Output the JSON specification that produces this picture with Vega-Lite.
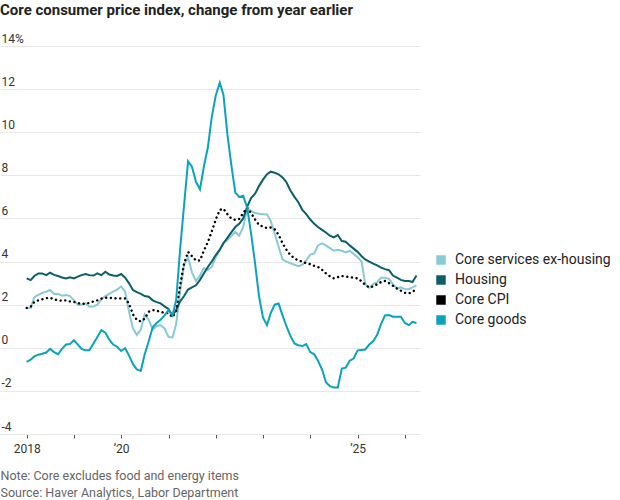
{
  "$schema": "https://vega.github.io/schema/vega-lite/v6.json",
  "width": 420,
  "height": 388,
  "autosize": {"type": "none"},
  "padding": {"left": 0, "top": 46, "right": 200, "bottom": 66},
  "title": {
    "text": "Core consumer price index, change from year earlier",
    "anchor": "start",
    "frame": "group",
    "offset": 2,
    "baseline": "alphabetic",
    "fontSize": 15,
    "fontWeight": "bold",
    "color": "#222"
  },
  "config": {"view": {"stroke": null}, "font": "Roboto"},
  "datasets": {
    "services": [
      {"date": "2018-01-01", "pct": 1.83}, {"date": "2018-02-01", "pct": 1.85}, {"date": "2018-03-01", "pct": 2.35}, {"date": "2018-04-01", "pct": 2.45},
      {"date": "2018-05-01", "pct": 2.55}, {"date": "2018-06-01", "pct": 2.6}, {"date": "2018-07-01", "pct": 2.68}, {"date": "2018-08-01", "pct": 2.5},
      {"date": "2018-09-01", "pct": 2.5}, {"date": "2018-10-01", "pct": 2.42}, {"date": "2018-11-01", "pct": 2.45}, {"date": "2018-12-01", "pct": 2.4},
      {"date": "2019-01-01", "pct": 2.2}, {"date": "2019-02-01", "pct": 2.0}, {"date": "2019-03-01", "pct": 2.0}, {"date": "2019-04-01", "pct": 2.06},
      {"date": "2019-05-01", "pct": 1.9}, {"date": "2019-06-01", "pct": 1.92}, {"date": "2019-07-01", "pct": 2.0}, {"date": "2019-08-01", "pct": 2.25},
      {"date": "2019-09-01", "pct": 2.4}, {"date": "2019-10-01", "pct": 2.5}, {"date": "2019-11-01", "pct": 2.6}, {"date": "2019-12-01", "pct": 2.7},
      {"date": "2020-01-01", "pct": 2.85}, {"date": "2020-02-01", "pct": 2.6}, {"date": "2020-03-01", "pct": 1.7}, {"date": "2020-04-01", "pct": 0.9},
      {"date": "2020-05-01", "pct": 0.6}, {"date": "2020-06-01", "pct": 0.85}, {"date": "2020-07-01", "pct": 1.55}, {"date": "2020-08-01", "pct": 1.3},
      {"date": "2020-09-01", "pct": 0.85}, {"date": "2020-10-01", "pct": 1.0}, {"date": "2020-11-01", "pct": 1.05}, {"date": "2020-12-01", "pct": 0.9},
      {"date": "2021-01-01", "pct": 0.5}, {"date": "2021-02-01", "pct": 0.48}, {"date": "2021-03-01", "pct": 1.1}, {"date": "2021-04-01", "pct": 2.6},
      {"date": "2021-05-01", "pct": 3.85}, {"date": "2021-06-01", "pct": 4.2}, {"date": "2021-07-01", "pct": 3.5}, {"date": "2021-08-01", "pct": 3.1},
      {"date": "2021-09-01", "pct": 3.35}, {"date": "2021-10-01", "pct": 3.7}, {"date": "2021-11-01", "pct": 3.62}, {"date": "2021-12-01", "pct": 3.75},
      {"date": "2022-01-01", "pct": 4.2}, {"date": "2022-02-01", "pct": 4.55}, {"date": "2022-03-01", "pct": 4.85}, {"date": "2022-04-01", "pct": 5.0},
      {"date": "2022-05-01", "pct": 5.18}, {"date": "2022-06-01", "pct": 5.38}, {"date": "2022-07-01", "pct": 5.2}, {"date": "2022-08-01", "pct": 5.6},
      {"date": "2022-09-01", "pct": 6.45}, {"date": "2022-10-01", "pct": 6.35}, {"date": "2022-11-01", "pct": 6.25}, {"date": "2022-12-01", "pct": 6.22},
      {"date": "2023-01-01", "pct": 6.2}, {"date": "2023-02-01", "pct": 6.18}, {"date": "2023-03-01", "pct": 5.9}, {"date": "2023-04-01", "pct": 5.3},
      {"date": "2023-05-01", "pct": 4.7}, {"date": "2023-06-01", "pct": 4.1}, {"date": "2023-07-01", "pct": 4.0}, {"date": "2023-08-01", "pct": 3.92},
      {"date": "2023-09-01", "pct": 3.85}, {"date": "2023-10-01", "pct": 3.78}, {"date": "2023-11-01", "pct": 3.85}, {"date": "2023-12-01", "pct": 4.05},
      {"date": "2024-01-01", "pct": 4.32}, {"date": "2024-02-01", "pct": 4.38}, {"date": "2024-03-01", "pct": 4.75}, {"date": "2024-04-01", "pct": 4.84},
      {"date": "2024-05-01", "pct": 4.75}, {"date": "2024-06-01", "pct": 4.62}, {"date": "2024-07-01", "pct": 4.5}, {"date": "2024-08-01", "pct": 4.55},
      {"date": "2024-09-01", "pct": 4.5}, {"date": "2024-10-01", "pct": 4.42}, {"date": "2024-11-01", "pct": 4.5}, {"date": "2024-12-01", "pct": 4.35},
      {"date": "2025-01-01", "pct": 4.2}, {"date": "2025-02-01", "pct": 4.0}, {"date": "2025-03-01", "pct": 2.95}, {"date": "2025-04-01", "pct": 2.78},
      {"date": "2025-05-01", "pct": 2.95}, {"date": "2025-06-01", "pct": 3.05}, {"date": "2025-07-01", "pct": 3.25}, {"date": "2025-08-01", "pct": 3.25},
      {"date": "2025-09-01", "pct": 3.2}, {"date": "2025-10-01", "pct": 2.95}, {"date": "2025-11-01", "pct": 2.75}, {"date": "2025-12-01", "pct": 2.8},
      {"date": "2026-01-01", "pct": 2.72}, {"date": "2026-02-01", "pct": 2.72}, {"date": "2026-03-01", "pct": 2.8}, {"date": "2026-04-01", "pct": 2.9}
    ],
    "housing": [
      {"date": "2018-01-01", "pct": 3.22}, {"date": "2018-02-01", "pct": 3.14}, {"date": "2018-03-01", "pct": 3.33}, {"date": "2018-04-01", "pct": 3.45},
      {"date": "2018-05-01", "pct": 3.45}, {"date": "2018-06-01", "pct": 3.37}, {"date": "2018-07-01", "pct": 3.48}, {"date": "2018-08-01", "pct": 3.38},
      {"date": "2018-09-01", "pct": 3.33}, {"date": "2018-10-01", "pct": 3.26}, {"date": "2018-11-01", "pct": 3.22}, {"date": "2018-12-01", "pct": 3.27},
      {"date": "2019-01-01", "pct": 3.22}, {"date": "2019-02-01", "pct": 3.3}, {"date": "2019-03-01", "pct": 3.37}, {"date": "2019-04-01", "pct": 3.42},
      {"date": "2019-05-01", "pct": 3.37}, {"date": "2019-06-01", "pct": 3.35}, {"date": "2019-07-01", "pct": 3.45}, {"date": "2019-08-01", "pct": 3.37},
      {"date": "2019-09-01", "pct": 3.53}, {"date": "2019-10-01", "pct": 3.4}, {"date": "2019-11-01", "pct": 3.35}, {"date": "2019-12-01", "pct": 3.33},
      {"date": "2020-01-01", "pct": 3.42}, {"date": "2020-02-01", "pct": 3.25}, {"date": "2020-03-01", "pct": 3.0}, {"date": "2020-04-01", "pct": 2.68},
      {"date": "2020-05-01", "pct": 2.58}, {"date": "2020-06-01", "pct": 2.5}, {"date": "2020-07-01", "pct": 2.4}, {"date": "2020-08-01", "pct": 2.37},
      {"date": "2020-09-01", "pct": 2.2}, {"date": "2020-10-01", "pct": 2.12}, {"date": "2020-11-01", "pct": 2.06}, {"date": "2020-12-01", "pct": 1.92},
      {"date": "2021-01-01", "pct": 1.8}, {"date": "2021-02-01", "pct": 1.5}, {"date": "2021-03-01", "pct": 1.75}, {"date": "2021-04-01", "pct": 2.15},
      {"date": "2021-05-01", "pct": 2.4}, {"date": "2021-06-01", "pct": 2.7}, {"date": "2021-07-01", "pct": 2.8}, {"date": "2021-08-01", "pct": 2.9},
      {"date": "2021-09-01", "pct": 3.15}, {"date": "2021-10-01", "pct": 3.45}, {"date": "2021-11-01", "pct": 3.75}, {"date": "2021-12-01", "pct": 4.0},
      {"date": "2022-01-01", "pct": 4.3}, {"date": "2022-02-01", "pct": 4.55}, {"date": "2022-03-01", "pct": 4.85}, {"date": "2022-04-01", "pct": 5.1},
      {"date": "2022-05-01", "pct": 5.35}, {"date": "2022-06-01", "pct": 5.6}, {"date": "2022-07-01", "pct": 5.75}, {"date": "2022-08-01", "pct": 6.0},
      {"date": "2022-09-01", "pct": 6.55}, {"date": "2022-10-01", "pct": 6.95}, {"date": "2022-11-01", "pct": 7.15}, {"date": "2022-12-01", "pct": 7.5},
      {"date": "2023-01-01", "pct": 7.8}, {"date": "2023-02-01", "pct": 8.05}, {"date": "2023-03-01", "pct": 8.17}, {"date": "2023-04-01", "pct": 8.12},
      {"date": "2023-05-01", "pct": 8.05}, {"date": "2023-06-01", "pct": 7.9}, {"date": "2023-07-01", "pct": 7.68}, {"date": "2023-08-01", "pct": 7.3},
      {"date": "2023-09-01", "pct": 7.0}, {"date": "2023-10-01", "pct": 6.75}, {"date": "2023-11-01", "pct": 6.4}, {"date": "2023-12-01", "pct": 6.2},
      {"date": "2024-01-01", "pct": 5.95}, {"date": "2024-02-01", "pct": 5.75}, {"date": "2024-03-01", "pct": 5.6}, {"date": "2024-04-01", "pct": 5.47},
      {"date": "2024-05-01", "pct": 5.35}, {"date": "2024-06-01", "pct": 5.2}, {"date": "2024-07-01", "pct": 5.12}, {"date": "2024-08-01", "pct": 5.23},
      {"date": "2024-09-01", "pct": 4.95}, {"date": "2024-10-01", "pct": 4.92}, {"date": "2024-11-01", "pct": 4.75}, {"date": "2024-12-01", "pct": 4.6},
      {"date": "2025-01-01", "pct": 4.45}, {"date": "2025-02-01", "pct": 4.25}, {"date": "2025-03-01", "pct": 4.1}, {"date": "2025-04-01", "pct": 4.0},
      {"date": "2025-05-01", "pct": 3.9}, {"date": "2025-06-01", "pct": 3.82}, {"date": "2025-07-01", "pct": 3.72}, {"date": "2025-08-01", "pct": 3.65},
      {"date": "2025-09-01", "pct": 3.6}, {"date": "2025-10-01", "pct": 3.35}, {"date": "2025-11-01", "pct": 3.25}, {"date": "2025-12-01", "pct": 3.15},
      {"date": "2026-01-01", "pct": 3.1}, {"date": "2026-02-01", "pct": 3.1}, {"date": "2026-03-01", "pct": 3.05}, {"date": "2026-04-01", "pct": 3.35}
    ],
    "core": [
      {"date": "2018-01-01", "pct": 1.85}, {"date": "2018-02-01", "pct": 1.9}, {"date": "2018-03-01", "pct": 2.13}, {"date": "2018-04-01", "pct": 2.2},
      {"date": "2018-05-01", "pct": 2.25}, {"date": "2018-06-01", "pct": 2.3}, {"date": "2018-07-01", "pct": 2.32}, {"date": "2018-08-01", "pct": 2.25},
      {"date": "2018-09-01", "pct": 2.2}, {"date": "2018-10-01", "pct": 2.18}, {"date": "2018-11-01", "pct": 2.2}, {"date": "2018-12-01", "pct": 2.15},
      {"date": "2019-01-01", "pct": 2.13}, {"date": "2019-02-01", "pct": 2.08}, {"date": "2019-03-01", "pct": 2.03}, {"date": "2019-04-01", "pct": 2.05},
      {"date": "2019-05-01", "pct": 2.08}, {"date": "2019-06-01", "pct": 2.15}, {"date": "2019-07-01", "pct": 2.2}, {"date": "2019-08-01", "pct": 2.28},
      {"date": "2019-09-01", "pct": 2.32}, {"date": "2019-10-01", "pct": 2.32}, {"date": "2019-11-01", "pct": 2.3}, {"date": "2019-12-01", "pct": 2.29},
      {"date": "2020-01-01", "pct": 2.29}, {"date": "2020-02-01", "pct": 2.29}, {"date": "2020-03-01", "pct": 2.06}, {"date": "2020-04-01", "pct": 1.55},
      {"date": "2020-05-01", "pct": 1.3}, {"date": "2020-06-01", "pct": 1.22}, {"date": "2020-07-01", "pct": 1.35}, {"date": "2020-08-01", "pct": 1.67},
      {"date": "2020-09-01", "pct": 1.75}, {"date": "2020-10-01", "pct": 1.72}, {"date": "2020-11-01", "pct": 1.67}, {"date": "2020-12-01", "pct": 1.62},
      {"date": "2021-01-01", "pct": 1.6}, {"date": "2021-02-01", "pct": 1.42}, {"date": "2021-03-01", "pct": 1.7}, {"date": "2021-04-01", "pct": 2.9},
      {"date": "2021-05-01", "pct": 3.9}, {"date": "2021-06-01", "pct": 4.45}, {"date": "2021-07-01", "pct": 4.25}, {"date": "2021-08-01", "pct": 4.05},
      {"date": "2021-09-01", "pct": 4.05}, {"date": "2021-10-01", "pct": 4.5}, {"date": "2021-11-01", "pct": 4.9}, {"date": "2021-12-01", "pct": 5.4},
      {"date": "2022-01-01", "pct": 5.95}, {"date": "2022-02-01", "pct": 6.4}, {"date": "2022-03-01", "pct": 6.45}, {"date": "2022-04-01", "pct": 6.2},
      {"date": "2022-05-01", "pct": 6.0}, {"date": "2022-06-01", "pct": 5.93}, {"date": "2022-07-01", "pct": 5.98}, {"date": "2022-08-01", "pct": 6.25},
      {"date": "2022-09-01", "pct": 6.5}, {"date": "2022-10-01", "pct": 6.25}, {"date": "2022-11-01", "pct": 5.95}, {"date": "2022-12-01", "pct": 5.7},
      {"date": "2023-01-01", "pct": 5.62}, {"date": "2023-02-01", "pct": 5.55}, {"date": "2023-03-01", "pct": 5.58}, {"date": "2023-04-01", "pct": 5.5},
      {"date": "2023-05-01", "pct": 5.25}, {"date": "2023-06-01", "pct": 4.85}, {"date": "2023-07-01", "pct": 4.55}, {"date": "2023-08-01", "pct": 4.3},
      {"date": "2023-09-01", "pct": 4.15}, {"date": "2023-10-01", "pct": 4.05}, {"date": "2023-11-01", "pct": 4.0}, {"date": "2023-12-01", "pct": 3.92},
      {"date": "2024-01-01", "pct": 3.88}, {"date": "2024-02-01", "pct": 3.8}, {"date": "2024-03-01", "pct": 3.75}, {"date": "2024-04-01", "pct": 3.62},
      {"date": "2024-05-01", "pct": 3.45}, {"date": "2024-06-01", "pct": 3.32}, {"date": "2024-07-01", "pct": 3.22}, {"date": "2024-08-01", "pct": 3.28},
      {"date": "2024-09-01", "pct": 3.33}, {"date": "2024-10-01", "pct": 3.3}, {"date": "2024-11-01", "pct": 3.28}, {"date": "2024-12-01", "pct": 3.25},
      {"date": "2025-01-01", "pct": 3.22}, {"date": "2025-02-01", "pct": 3.08}, {"date": "2025-03-01", "pct": 2.92}, {"date": "2025-04-01", "pct": 2.8},
      {"date": "2025-05-01", "pct": 2.85}, {"date": "2025-06-01", "pct": 2.95}, {"date": "2025-07-01", "pct": 3.05}, {"date": "2025-08-01", "pct": 3.1},
      {"date": "2025-09-01", "pct": 3.0}, {"date": "2025-10-01", "pct": 2.88}, {"date": "2025-11-01", "pct": 2.75}, {"date": "2025-12-01", "pct": 2.65},
      {"date": "2026-01-01", "pct": 2.55}, {"date": "2026-02-01", "pct": 2.52}, {"date": "2026-03-01", "pct": 2.6}, {"date": "2026-04-01", "pct": 2.72}
    ],
    "goods": [
      {"date": "2018-01-01", "pct": -0.65}, {"date": "2018-02-01", "pct": -0.55}, {"date": "2018-03-01", "pct": -0.4}, {"date": "2018-04-01", "pct": -0.32},
      {"date": "2018-05-01", "pct": -0.28}, {"date": "2018-06-01", "pct": -0.22}, {"date": "2018-07-01", "pct": -0.05}, {"date": "2018-08-01", "pct": -0.2},
      {"date": "2018-09-01", "pct": -0.3}, {"date": "2018-10-01", "pct": -0.05}, {"date": "2018-11-01", "pct": 0.15}, {"date": "2018-12-01", "pct": 0.17},
      {"date": "2019-01-01", "pct": 0.35}, {"date": "2019-02-01", "pct": 0.15}, {"date": "2019-03-01", "pct": -0.05}, {"date": "2019-04-01", "pct": -0.12},
      {"date": "2019-05-01", "pct": -0.12}, {"date": "2019-06-01", "pct": 0.2}, {"date": "2019-07-01", "pct": 0.5}, {"date": "2019-08-01", "pct": 0.82},
      {"date": "2019-09-01", "pct": 0.7}, {"date": "2019-10-01", "pct": 0.38}, {"date": "2019-11-01", "pct": 0.15}, {"date": "2019-12-01", "pct": 0.05},
      {"date": "2020-01-01", "pct": -0.15}, {"date": "2020-02-01", "pct": -0.02}, {"date": "2020-03-01", "pct": -0.35}, {"date": "2020-04-01", "pct": -0.75},
      {"date": "2020-05-01", "pct": -1.0}, {"date": "2020-06-01", "pct": -1.07}, {"date": "2020-07-01", "pct": -0.3}, {"date": "2020-08-01", "pct": 0.3},
      {"date": "2020-09-01", "pct": 0.95}, {"date": "2020-10-01", "pct": 1.15}, {"date": "2020-11-01", "pct": 1.3}, {"date": "2020-12-01", "pct": 1.5},
      {"date": "2021-01-01", "pct": 1.75}, {"date": "2021-02-01", "pct": 1.5}, {"date": "2021-03-01", "pct": 2.2}, {"date": "2021-04-01", "pct": 4.6},
      {"date": "2021-05-01", "pct": 6.6}, {"date": "2021-06-01", "pct": 8.65}, {"date": "2021-07-01", "pct": 8.4}, {"date": "2021-08-01", "pct": 7.7},
      {"date": "2021-09-01", "pct": 7.35}, {"date": "2021-10-01", "pct": 8.4}, {"date": "2021-11-01", "pct": 9.3}, {"date": "2021-12-01", "pct": 10.7},
      {"date": "2022-01-01", "pct": 11.7}, {"date": "2022-02-01", "pct": 12.3}, {"date": "2022-03-01", "pct": 11.75}, {"date": "2022-04-01", "pct": 9.9},
      {"date": "2022-05-01", "pct": 8.5}, {"date": "2022-06-01", "pct": 7.2}, {"date": "2022-07-01", "pct": 7.0}, {"date": "2022-08-01", "pct": 7.05},
      {"date": "2022-09-01", "pct": 6.5}, {"date": "2022-10-01", "pct": 5.3}, {"date": "2022-11-01", "pct": 3.9}, {"date": "2022-12-01", "pct": 2.4},
      {"date": "2023-01-01", "pct": 1.4}, {"date": "2023-02-01", "pct": 1.05}, {"date": "2023-03-01", "pct": 1.6}, {"date": "2023-04-01", "pct": 2.0},
      {"date": "2023-05-01", "pct": 2.05}, {"date": "2023-06-01", "pct": 1.5}, {"date": "2023-07-01", "pct": 1.0}, {"date": "2023-08-01", "pct": 0.55},
      {"date": "2023-09-01", "pct": 0.2}, {"date": "2023-10-01", "pct": 0.12}, {"date": "2023-11-01", "pct": 0.08}, {"date": "2023-12-01", "pct": 0.17},
      {"date": "2024-01-01", "pct": -0.2}, {"date": "2024-02-01", "pct": -0.3}, {"date": "2024-03-01", "pct": -0.6}, {"date": "2024-04-01", "pct": -1.0},
      {"date": "2024-05-01", "pct": -1.6}, {"date": "2024-06-01", "pct": -1.78}, {"date": "2024-07-01", "pct": -1.84}, {"date": "2024-08-01", "pct": -1.84},
      {"date": "2024-09-01", "pct": -0.96}, {"date": "2024-10-01", "pct": -0.92}, {"date": "2024-11-01", "pct": -0.6}, {"date": "2024-12-01", "pct": -0.5},
      {"date": "2025-01-01", "pct": -0.12}, {"date": "2025-02-01", "pct": -0.1}, {"date": "2025-03-01", "pct": -0.08}, {"date": "2025-04-01", "pct": 0.15},
      {"date": "2025-05-01", "pct": 0.3}, {"date": "2025-06-01", "pct": 0.6}, {"date": "2025-07-01", "pct": 1.1}, {"date": "2025-08-01", "pct": 1.5},
      {"date": "2025-09-01", "pct": 1.52}, {"date": "2025-10-01", "pct": 1.44}, {"date": "2025-11-01", "pct": 1.44}, {"date": "2025-12-01", "pct": 1.44},
      {"date": "2026-01-01", "pct": 1.15}, {"date": "2026-02-01", "pct": 1.05}, {"date": "2026-03-01", "pct": 1.2}, {"date": "2026-04-01", "pct": 1.15}
    ]
  },
  "layer": [
    {
      "data": {"name": "services"},
      "mark": {"type": "line", "strokeWidth": 2},
      "encoding": {
        "x": {
          "field": "date",
          "type": "temporal",
          "scale": {
            "type": "utc",
            "domain": [
              {"year": 2017, "month": 6, "date": 9, "utc": true},
              {"year": 2026, "month": 4, "date": 28, "utc": true}
            ]
          },
          "axis": {
            "values": [
              {"year": 2018, "month": 1, "date": 1, "utc": true},
              {"year": 2019, "month": 1, "date": 1, "utc": true},
              {"year": 2020, "month": 1, "date": 1, "utc": true},
              {"year": 2021, "month": 1, "date": 1, "utc": true},
              {"year": 2022, "month": 1, "date": 1, "utc": true},
              {"year": 2023, "month": 1, "date": 1, "utc": true},
              {"year": 2024, "month": 1, "date": 1, "utc": true},
              {"year": 2025, "month": 1, "date": 1, "utc": true},
              {"year": 2026, "month": 1, "date": 1, "utc": true}
            ],
            "labelExpr": "utcyear(datum.value) == 2018 ? '2018' : utcyear(datum.value) == 2020 ? '’20' : utcyear(datum.value) == 2025 ? '’25' : ''",
            "grid": false,
            "domain": true,
            "domainColor": "#e6e6e6",
            "tickSize": 4,
            "tickColor": "#555",
            "labelFontSize": 12,
            "labelColor": "#333",
            "labelPadding": 5,
            "labelFlush": false,
            "labelOverlap": false,
            "title": ["Note: Core excludes food and energy items", "Source: Haver Analytics, Labor Department"],
            "titleAnchor": "start",
            "titleAlign": "left",
            "titleX": 0,
            "titleY": 35,
            "titleBaseline": "top",
            "titleFontSize": 12.5,
            "titleFontWeight": "normal",
            "titleColor": "#666",
            "titleLineHeight": 17
          }
        },
        "y": {
          "field": "pct",
          "type": "quantitative",
          "scale": {"domain": [-4, 14], "nice": false},
          "axis": {
            "values": [-4, -2, 0, 2, 4, 6, 8, 10, 12, 14],
            "title": null,
            "domain": false,
            "ticks": false,
            "tickSize": 0,
            "grid": true,
            "gridColor": "#e8e8e8",
            "labelAlign": "left",
            "labelBaseline": "bottom",
            "labelPadding": -1,
            "labelOffset": -1,
            "labelFontSize": 12,
            "labelColor": "#333",
            "labelExpr": "datum.value == 14 ? '14%' : datum.value < 0 ? '-' + abs(datum.value) : abs(datum.value) < 10 ? '\u2007' + datum.label : datum.label"
          }
        },
        "color": {
          "datum": "Core services ex-housing",
          "type": "nominal",
          "scale": {
            "domain": ["Core services ex-housing", "Housing", "Core CPI", "Core goods"],
            "range": ["#88cad8", "#0b5f68", "#000000", "#0aa3bd"]
          },
          "legend": {
            "title": null,
            "orient": "none",
            "legendX": 434,
            "legendY": 207,
            "symbolType": "square",
            "symbolSize": 90,
            "symbolStrokeWidth": 0,
            "labelFontSize": 14,
            "labelColor": "#222",
            "labelOffset": 7,
            "rowPadding": 6,
            "encode": {"symbols": {"update": {"fill": {"signal": "scale('color', datum.value)"}, "opacity": {"value": 1}}}}
          }
        }
      }
    },
    {
      "mark": {"type": "rule", "color": "#8a8a8a", "strokeWidth": 1.5},
      "encoding": {"y": {"datum": 0, "type": "quantitative"}}
    },
    {
      "data": {"name": "housing"},
      "mark": {"type": "line", "strokeWidth": 2},
      "encoding": {
        "x": {"field": "date", "type": "temporal"},
        "y": {"field": "pct", "type": "quantitative"},
        "color": {"datum": "Housing", "type": "nominal"}
      }
    },
    {
      "data": {"name": "core"},
      "mark": {"type": "line", "strokeWidth": 2.4, "strokeDash": [0.1, 4.6], "strokeCap": "round"},
      "encoding": {
        "x": {"field": "date", "type": "temporal"},
        "y": {"field": "pct", "type": "quantitative"},
        "color": {"datum": "Core CPI", "type": "nominal"}
      }
    },
    {
      "data": {"name": "goods"},
      "mark": {"type": "line", "strokeWidth": 2},
      "encoding": {
        "x": {"field": "date", "type": "temporal"},
        "y": {"field": "pct", "type": "quantitative"},
        "color": {"datum": "Core goods", "type": "nominal"}
      }
    }
  ]
}
